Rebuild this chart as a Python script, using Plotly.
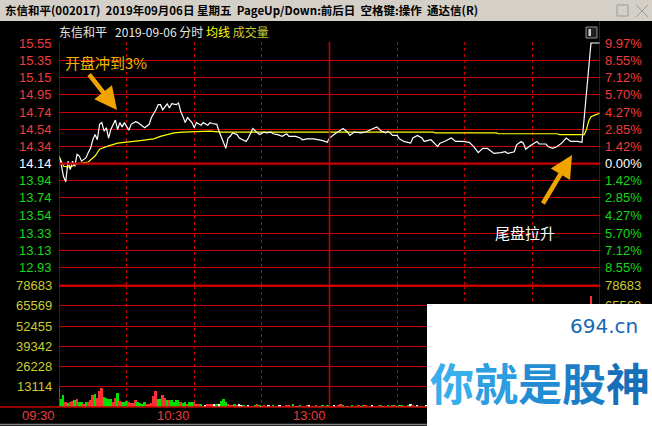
import plotly.graph_objects as go

# ---------------- data ----------------
prev_close = 14.14
price_ticks = [15.55, 15.35, 15.15, 14.95, 14.74, 14.54, 14.34, 14.14,
               13.94, 13.74, 13.54, 13.33, 13.13, 12.93]
pct_labels = ["9.97%", "8.55%", "7.12%", "5.70%", "4.27%", "2.85%", "1.42%", "0.00%",
              "1.42%", "2.85%", "4.27%", "5.70%", "7.12%", "8.55%"]
vol_ticks = [78683, 65569, 52455, 39342, 26228, 13114]
vol_ticks_right = [78683, 65569]          # the rest lie under the watermark
time_labels = ["09:30", "10:30", "13:00"]  # later labels lie under the watermark
time_label_pos = [0, 60, 120]
dot_grid_minutes = [30, 60, 90, 150, 180, 210]
solid_grid_minutes = [120]

price_min = [0, 1, 2, 3, 4, 5, 6, 7, 8, 9, 10, 12, 13, 14, 15, 16, 17, 18, 19, 20, 21, 22, 23, 25,
             26, 27, 28, 29, 31, 32, 34, 35, 37, 38, 40, 41, 43, 44, 45, 46, 48, 49, 50, 52, 53,
             54, 55, 56, 57, 59, 60, 61, 63, 64, 66, 67, 68, 70, 71, 73, 74, 75, 76, 77, 79, 80,
             83, 84, 86, 88, 89, 91, 92, 94, 95, 97, 99, 101, 102, 105, 107, 108, 110, 113, 115,
             117, 119, 120, 122, 124, 126, 128, 129, 131, 134, 136, 139, 141, 143, 145, 146, 148,
             150, 151, 153, 156, 157, 159, 161, 162, 165, 166, 168, 169, 171, 174, 176, 179, 182,
             184, 186, 188, 190, 191, 193, 196, 198, 199, 202, 203, 205, 206, 207, 209, 212, 213,
             216, 217, 219, 221, 223, 225, 227, 230, 232, 233, 234, 235, 236, 240]
price_val = [14.23, 14.13, 13.99, 13.93, 14.17, 14.07, 14.17, 14.11, 14.25, 14.23, 14.17, 14.21,
             14.27, 14.32, 14.42, 14.48, 14.42, 14.60, 14.62, 14.52, 14.56, 14.44, 14.54, 14.65,
             14.54, 14.62, 14.57, 14.62, 14.53, 14.60, 14.63, 14.62, 14.58, 14.56, 14.60, 14.68,
             14.77, 14.83, 14.83, 14.77, 14.84, 14.79, 14.84, 14.83, 14.85, 14.75, 14.69, 14.62,
             14.68, 14.62, 14.56, 14.62, 14.59, 14.62, 14.59, 14.62, 14.61, 14.60, 14.52, 14.38,
             14.32, 14.44, 14.46, 14.50, 14.48, 14.44, 14.40, 14.44, 14.55, 14.50, 14.48, 14.51,
             14.50, 14.51, 14.49, 14.48, 14.46, 14.49, 14.46, 14.46, 14.44, 14.42, 14.43, 14.43,
             14.42, 14.41, 14.39, 14.44, 14.48, 14.52, 14.55, 14.51, 14.47, 14.51, 14.50, 14.51,
             14.55, 14.57, 14.52, 14.50, 14.52, 14.47, 14.47, 14.43, 14.40, 14.38, 14.44, 14.47,
             14.44, 14.40, 14.42, 14.39, 14.34, 14.38, 14.40, 14.44, 14.40, 14.40, 14.39, 14.34,
             14.27, 14.32, 14.32, 14.30, 14.26, 14.27, 14.28, 14.26, 14.28, 14.36, 14.40, 14.38,
             14.31, 14.35, 14.40, 14.37, 14.37, 14.34, 14.32, 14.34, 14.38, 14.44, 14.40, 14.40,
             14.39, 14.68, 14.97, 15.32, 15.55, 15.55]

avg_min = [0, 2, 5, 8, 13, 16, 18, 21, 26, 30, 36, 42, 45, 51, 55, 67, 72, 166, 167, 194, 195,
           221, 222, 233, 234, 235, 236, 238, 240]
avg_val = [14.23, 14.11, 14.10, 14.14, 14.16, 14.23, 14.31, 14.34, 14.38, 14.39, 14.41, 14.43,
           14.46, 14.50, 14.51, 14.52, 14.51, 14.51, 14.50, 14.50, 14.49, 14.49, 14.48, 14.48,
           14.54, 14.64, 14.69, 14.71, 14.73]

volume = [12700, 5400, 8000, 3700, 3000, 3700, 4100, 4800, 5400, 3700,
          3700, 2400, 3700, 3700, 4800, 8000, 8900, 5800, 10800, 12700,
          6900, 5800, 5200, 5200, 3200, 6300, 9500, 4100, 3700, 3700,
          4100, 3200, 3000, 3000, 5000, 3700, 2800, 2400, 3200, 1900,
          2400, 3000, 7600, 10800, 5200, 5200, 8000, 5800, 5000, 4500,
          4500, 3700, 4800, 4800, 3200, 3000, 3700, 2400, 3200, 3700,
          3200, 2100, 2100, 1900, 1100, 1500, 2100, 1900, 1900, 1900,
          1900, 1900, 4100, 5400, 3200, 2400, 1500, 1500, 1900, 1500,
          1900, 1500,
          1200, 900, 1500, 1100, 800, 1300, 2100, 1400, 900, 1600,
          1000, 1200, 800, 1500, 1100, 700, 1300, 900, 1000, 1200,
          1400, 800, 1900, 1100, 900, 1300, 1000, 800, 1200, 1500,
          900, 1100, 1600, 800, 1000, 1300, 900, 1400, 1700, 1100,
          1300, 1000, 1200, 2100, 1500, 900, 1100, 800, 1300, 1000,
          900, 1200, 1000, 1500, 1800, 1100, 900, 1300, 1000, 800,
          1200, 1600, 1000, 900, 1400, 1100, 1700, 1500, 1000, 1200,
          1300, 900, 1100, 1500, 2200, 1400, 1000, 1200, 900, 1100,
          1000, 1300, 1500, 1200, 1100, 1800, 1300, 1000, 900, 1200,
          1100, 1400, 1000, 1200, 1600, 900, 1000, 1300, 1100, 900,
          1200, 1500, 1700, 1300, 1000, 1100, 1400, 900, 1200, 1000,
          1300, 1100, 1000, 1500, 1200, 900, 1100, 1300, 1000, 1600,
          1800, 1400, 1200, 1000, 1500, 1300, 1100, 1000, 1200, 1400,
          1100, 1000, 1300, 1200, 900, 1500, 1100, 1000, 1300, 1200,
          1400, 1600, 1800, 1200, 1500, 1000, 1300, 1100, 1400, 1600,
          2500, 18000, 36000, 48000, 72000, 9000, 5000, 3000, 2500]
vol_dir = ("gggrgrrgrg" "grgrrrgrrr" "ggggrrgrgg" "grrrrggggr" "rrrrggrrgr"
           "ggggrggrgg" "rrrggwrrrw" "gwgggrrrgr" "ww"
           "grwrggrgwr" "gwrgrgwrgr" "rggrwgrgrw" "grrgwgrggr" "wgrrgrwggr"
           "grwgrgrwgr" "rgwrgrgrwg" "grrgwrgwgr" "gwrggrgrwg" "rgrwgrgrgg"
           "wgrgrgwrgr" "grgwrgrggw" "rgrgwrgrgr" "gwgrgrwgrg" "rgrwgrgrgr"
           "grrrrrgrw")
vol_min = list(range(len(volume)))

# ---------------- layout geometry ----------------
FW, FH = 652, 426
L, R, T, B = 59, 52, 42, 19
PW, PH = FW - L - R, FH - T - B


def XP(px):
    return (px - L) / PW


def YP(py):
    return (FH - B - py) / PH


split_py = 285.7
split = YP(split_py)
scale = (267.3 - 43.0) / (15.55 - 12.93)
p_top = 15.55 + (43.0 - T) / scale
p_bot = 12.93 - (split_py - 267.3) / scale

RED = "#c80000"
LBL_RED = "#f03c3c"
LBL_GREEN = "#18d818"
LBL_YEL = "#cccc30"
dir_color = {"r": "#ff3030", "g": "#00e000", "w": "#ffffff"}

fig = go.Figure()
fig.add_trace(go.Bar(x=vol_min, y=volume, yaxis="y2",
                     marker=dict(color=[dir_color[c] for c in vol_dir], line=dict(width=0)),
                     width=0.85, showlegend=False, hoverinfo="skip"))
fig.add_trace(go.Scatter(x=avg_min, y=avg_val, mode="lines",
                         line=dict(color="#ffff00", width=1.2), showlegend=False))
fig.add_trace(go.Scatter(x=price_min, y=price_val, mode="lines",
                         line=dict(color="#ffffff", width=1.2), showlegend=False))

shapes = []
# title bar
shapes.append(dict(type="rect", xref="paper", yref="paper", x0=XP(0), x1=XP(FW),
                   y0=YP(21), y1=YP(0), fillcolor="#d4d0c8", line=dict(width=0), layer="below"))
# window buttons
shapes.append(dict(type="rect", xref="paper", yref="paper", x0=XP(617), x1=XP(628),
                   y0=YP(16), y1=YP(5), line=dict(color="#9a9a9a", width=1)))
shapes.append(dict(type="line", xref="paper", yref="paper", x0=XP(636), x1=XP(648),
                   y0=YP(17), y1=YP(5), line=dict(color="#9a9a9a", width=1)))
shapes.append(dict(type="line", xref="paper", yref="paper", x0=XP(636), x1=XP(648),
                   y0=YP(5), y1=YP(17), line=dict(color="#9a9a9a", width=1)))
# small icon in header
shapes.append(dict(type="rect", xref="paper", yref="paper", x0=XP(586), x1=XP(597),
                   y0=YP(38), y1=YP(27), fillcolor="#202020", line=dict(color="#909090", width=1)))
shapes.append(dict(type="rect", xref="paper", yref="paper", x0=XP(588.5), x1=XP(591),
                   y0=YP(36), y1=YP(29), fillcolor="#d0d0d0", line=dict(width=0)))
# borders
shapes.append(dict(type="line", xref="x", yref="paper", x0=0, x1=0, y0=0, y1=1,
                   line=dict(color=RED, width=1.2)))
shapes.append(dict(type="line", xref="x", yref="paper", x0=240, x1=240, y0=YP(FH), y1=YP(21.5),
                   line=dict(color=RED, width=1.2)))
for m in solid_grid_minutes:
    shapes.append(dict(type="line", xref="x", yref="paper", x0=m, x1=m, y0=0, y1=1,
                       line=dict(color=RED, width=1.5)))
shapes.append(dict(type="line", xref="paper", yref="paper", x0=XP(0), x1=XP(FW), y0=0, y1=0,
                   line=dict(color=RED, width=1.5)))
shapes.append(dict(type="line", xref="paper", yref="paper", x0=0, x1=1, y0=split, y1=split,
                   line=dict(color=RED, width=2.5)))
shapes.append(dict(type="line", xref="paper", yref="y", x0=0, x1=1, y0=prev_close, y1=prev_close,
                   line=dict(color=RED, width=2.2)))
shapes.append(dict(type="line", xref="paper", yref="paper", x0=XP(0), x1=XP(FW), y0=YP(424.5),
                   y1=YP(424.5), line=dict(color="#808080", width=1.5)))

ann = []
LAB_FONT = "Liberation Sans"
for v, pl in zip(price_ticks, pct_labels):
    c = LBL_RED if v > prev_close else ("#ffffff" if v == prev_close else LBL_GREEN)
    ann.append(dict(x=XP(54), y=v, xref="paper", yref="y", text=f"{v:.2f}", showarrow=False,
                    xanchor="right", yanchor="middle", font=dict(family=LAB_FONT, size=13, color=c)))
    ann.append(dict(x=XP(603), y=v, xref="paper", yref="y", text=pl, showarrow=False,
                    xanchor="left", yanchor="middle", font=dict(family=LAB_FONT, size=13, color=c)))
for v in vol_ticks:
    ann.append(dict(x=XP(54), y=v, xref="paper", yref="y2", text=str(v), showarrow=False,
                    xanchor="right", yanchor="middle",
                    font=dict(family=LAB_FONT, size=13, color=LBL_YEL)))
for v in vol_ticks_right:
    ann.append(dict(x=XP(603), y=v, xref="paper", yref="y2", text=str(v), showarrow=False,
                    xanchor="left", yanchor="middle",
                    font=dict(family=LAB_FONT, size=13, color=LBL_YEL)))
for t, m in zip(time_labels, time_label_pos):
    ann.append(dict(x=m, y=YP(415.5), xref="x", yref="paper", text=t, showarrow=False,
                    xanchor="right", yanchor="middle", xshift=-2,
                    font=dict(family=LAB_FONT, size=13, color="#e83c3c")))

CJK = "Noto Sans CJK SC"
ann.append(dict(x=XP(3), y=YP(10.5), xref="paper", yref="paper",
                text="<b>东信和平(002017)  2019年09月06日 星期五  PageUp/Down:前后日  空格键:操作  通达信(R)</b>",
                showarrow=False, xanchor="left", yanchor="middle",
                font=dict(family=CJK, size=11.5, color="#000000")))
ann.append(dict(x=XP(57), y=YP(32), xref="paper", yref="paper",
                text="东信和平   2019-09-06 分时 <span style='color:#ffff00'>均线</span> "
                     "<span style='color:#c8c83c'>成交量</span>",
                showarrow=False, xanchor="left", yanchor="middle",
                font=dict(family=CJK, size=12, color="#e6e6e6")))

# callouts
ann.append(dict(x=XP(63), y=YP(62), xref="paper", yref="paper", text="开盘冲到3%",
                showarrow=False, xanchor="left", yanchor="middle",
                font=dict(family=CJK, size=15, color="#f2b400")))
ann.append(dict(x=XP(117), y=YP(110), xref="paper", yref="paper", text="", showarrow=True,
                ax=-29, ay=-37, arrowhead=2, arrowsize=1.0, arrowwidth=4.5, arrowcolor="#f0a400"))
ann.append(dict(x=XP(525), y=YP(232), xref="paper", yref="paper", text="尾盘拉升",
                showarrow=False, xanchor="center", yanchor="middle",
                font=dict(family=CJK, size=15, color="#ffffff")))
ann.append(dict(x=XP(572), y=YP(155), xref="paper", yref="paper", text="", showarrow=True,
                ax=-30, ay=50, arrowhead=2, arrowsize=1.0, arrowwidth=4.5, arrowcolor="#f0a400"))

# watermark (drawn last, covers what lies beneath)
ann.append(dict(x=XP(427), y=YP(304), xref="paper", yref="paper", text=" ", showarrow=False,
                xanchor="left", yanchor="top", width=225, height=122, bgcolor="#ffffff",
                borderpad=0, borderwidth=0))
ann.append(dict(x=XP(604), y=YP(326), xref="paper", yref="paper", text="694.cn",
                showarrow=False, xanchor="center", yanchor="middle",
                font=dict(family="DejaVu Sans", size=20, color="#1668b4")))
wm_cols = ["#38aeea", "#2d9ee0", "#238dd4", "#1c7ec6", "#176fb8"]
wm_txt = "".join(f"<span style='color:{c}'>{ch}</span>" for ch, c in zip("你就是股神", wm_cols))
ann.append(dict(x=XP(540), y=YP(382), xref="paper", yref="paper", text=f"<b>{wm_txt}</b>",
                showarrow=False, xanchor="center", yanchor="middle",
                font=dict(family=CJK, size=44, color="#238dd4")))

fig.update_layout(
    width=FW, height=FH, margin=dict(l=L, r=R, t=T, b=B),
    paper_bgcolor="#000000", plot_bgcolor="#000000",
    bargap=0, showlegend=False,
    xaxis=dict(range=[0, 240], showticklabels=False, ticks="", zeroline=False,
               tickvals=dot_grid_minutes, showgrid=True, gridcolor=RED, gridwidth=1,
               griddash="dot", showline=False),
    yaxis=dict(domain=[split, 1], range=[p_bot, p_top], tickvals=price_ticks,
               showticklabels=False, ticks="", showgrid=True, gridcolor=RED, gridwidth=1,
               zeroline=False),
    yaxis2=dict(domain=[0, split], range=[0, 78683], tickvals=vol_ticks,
                showticklabels=False, ticks="", showgrid=True, gridcolor=RED, gridwidth=1,
                zeroline=False),
    shapes=shapes, annotations=ann,
)
fig.write_html("out.html", config={"displayModeBar": False},
               post_script="document.body.style.margin='0';document.body.style.overflow='hidden';")
